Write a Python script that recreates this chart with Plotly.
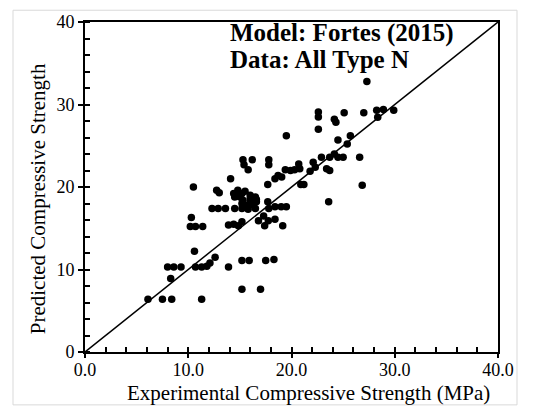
import plotly.graph_objects as go

# Experimental vs predicted compressive strength (MPa)
exp_strength = [
    6.1, 7.5, 8.4, 11.3,
    8.3,
    8.0, 8.6, 9.3,
    10.7, 11.3, 11.8, 12.1, 12.6, 13.9,
    10.6,
    10.3, 10.2, 10.7, 11.4,
    10.5,
    12.75, 13.0,
    12.3, 12.9, 13.6,
    14.1,
    13.9, 14.4, 14.85, 15.2,
    15.2, 15.9, 17.5, 18.3,
    15.2, 17.0,
    16.8, 17.3, 17.75, 18.4, 17.4, 19.15,
    14.5, 15.2, 15.8, 16.5, 17.8, 18.4, 19.0, 19.5,
    14.4, 14.85, 15.2, 14.5, 15.0, 16.0, 16.5, 15.3, 16.0, 16.6, 15.2, 15.8, 16.3, 17.7, 15.5, 14.8, 16.0, 16.6,
    15.3, 16.2, 15.4, 15.8, 17.8, 17.8,
    17.7, 19.5,
    18.4, 18.7, 19.05, 19.4, 19.9, 20.3, 20.7, 20.8,
    20.9, 21.2,
    21.8, 22.1, 22.3, 22.9,
    23.4, 23.7,
    23.7, 24.15, 24.5, 25.0, 26.6,
    24.5, 25.4, 25.7,
    22.6, 22.6, 22.6,
    24.15, 24.3,
    25.1, 27.0,
    28.25, 28.9, 28.35, 29.9,
    27.3,
    26.85, 23.6,
]
pred_strength = [
    6.4, 6.4, 6.4, 6.4,
    8.9,
    10.3, 10.3, 10.3,
    10.3, 10.3, 10.4, 10.8, 11.5, 10.3,
    12.2,
    16.3, 15.2, 15.2, 15.2,
    20.0,
    19.6, 19.3,
    17.4, 17.4, 17.4,
    21.0,
    15.4, 15.5, 15.3, 15.8,
    11.1, 11.1, 11.1, 11.2,
    7.6, 7.6,
    15.9, 16.5, 15.9, 16.1, 15.3, 15.3,
    17.4, 17.4, 17.3, 17.4, 17.4, 17.6, 17.6, 17.6,
    19.2, 19.3, 19.2, 18.8, 18.8, 19.0, 18.8, 18.4, 18.2, 18.2, 18.0, 17.8, 17.8, 18.2, 19.5, 19.6, 18.6, 18.5,
    23.3, 23.3, 22.7, 22.1, 23.3, 22.7,
    20.3, 26.2,
    21.0, 21.4, 21.2, 22.1, 22.0, 22.1, 22.8, 22.2,
    20.3, 20.3,
    21.9, 23.0, 22.4, 23.6,
    22.2, 22.0,
    23.6, 24.0, 23.6, 23.6, 23.6,
    25.7, 25.2, 26.2,
    29.1, 28.5, 27.0,
    28.2, 27.85,
    29.0, 29.0,
    29.3, 29.4, 28.45, 29.3,
    32.8,
    20.2, 18.2,
]

equality_line = [0, 40]
x_ticks = [0, 10, 20, 30, 40]
x_tick_labels = ["0.0", "10.0", "20.0", "30.0", "40.0"]
y_ticks = [0, 10, 20, 30, 40]
y_tick_labels = ["0", "10", "20", "30", "40"]

FONT = "Liberation Serif, Times New Roman, serif"

fig = go.Figure()
fig.add_trace(go.Scatter(
    x=equality_line, y=equality_line, mode="lines",
    line=dict(color="black", width=1.5), showlegend=False, hoverinfo="skip"))
fig.add_trace(go.Scatter(
    x=exp_strength, y=pred_strength, mode="markers",
    marker=dict(color="black", size=7.5, line=dict(width=0)), showlegend=False))
# invisible trace on overlay axes, used to draw the other half of the crossing major ticks
fig.add_trace(go.Scatter(
    x=equality_line, y=equality_line, xaxis="x2", yaxis="y2", mode="lines",
    line=dict(width=0, color="rgba(0,0,0,0)"), showlegend=False, hoverinfo="skip"))

common = dict(range=[0, 40], showgrid=False, zeroline=False)

fig.update_layout(
    width=534, height=408,
    margin=dict(l=85, r=36, t=15, b=56),
    paper_bgcolor="white", plot_bgcolor="white",
    xaxis=dict(
        **common, tickvals=x_ticks, ticktext=x_tick_labels,
        ticks="inside", ticklen=5, tickwidth=1.5, tickcolor="black",
        showline=True, linecolor="black", linewidth=2, mirror=True,
        tickfont=dict(family=FONT, size=18, color="black"),
        minor=dict(ticks="inside", dtick=2, tick0=0, ticklen=5, tickwidth=1.5,
                   tickcolor="black", showgrid=False),
    ),
    yaxis=dict(
        **common, tickvals=y_ticks, ticktext=y_tick_labels,
        ticks="outside", ticklen=5, tickwidth=1.5, tickcolor="black",
        showline=True, linecolor="black", linewidth=2, mirror=True,
        tickfont=dict(family=FONT, size=18, color="black"),
        minor=dict(ticks="inside", dtick=2, tick0=0, ticklen=5, tickwidth=1.5,
                   tickcolor="black", showgrid=False),
    ),
    xaxis2=dict(
        **common, overlaying="x", anchor="y", side="bottom", tickvals=x_ticks,
        ticks="outside", ticklen=5, tickwidth=1.5, tickcolor="black",
        showticklabels=False, showline=False,
    ),
    yaxis2=dict(
        **common, overlaying="y", anchor="x", side="left", tickvals=y_ticks,
        ticks="inside", ticklen=5, tickwidth=1.5, tickcolor="black",
        showticklabels=False, showline=False,
    ),
    annotations=[
        dict(text="<b>Model: Fortes (2015)</b>", xref="paper", yref="paper",
             x=0.346, y=(352 - 26) / 337, xanchor="left", yanchor="middle", showarrow=False,
             font=dict(family=FONT, size=25, color="black")),
        dict(text="<b>Data: All Type N</b>", xref="paper", yref="paper",
             x=0.346, y=(352 - 53) / 337, xanchor="left", yanchor="middle", showarrow=False,
             font=dict(family=FONT, size=25, color="black")),
        dict(text="Experimental Compressive Strength (MPa)", xref="paper", yref="paper",
             x=(308 - 85) / 413, y=(352 - 394) / 337, xanchor="center", yanchor="middle",
             showarrow=False, font=dict(family=FONT, size=21, color="black")),
        dict(text="Predicted Compressive Strength", xref="paper", yref="paper",
             x=(38 - 85) / 413, y=(352 - 196) / 337, xanchor="center", yanchor="middle",
             textangle=-90, showarrow=False, font=dict(family=FONT, size=21, color="black")),
    ],
    shapes=[
        dict(type="rect", xref="paper", yref="paper",
             x0=(13 - 85) / 413, x1=(517 - 85) / 413,
             y0=(352 - 406) / 337, y1=(352 - 3) / 337,
             line=dict(color="#d9d9d9", width=1), fillcolor="rgba(0,0,0,0)", layer="below"),
    ],
)

fig.write_html("out.html")
